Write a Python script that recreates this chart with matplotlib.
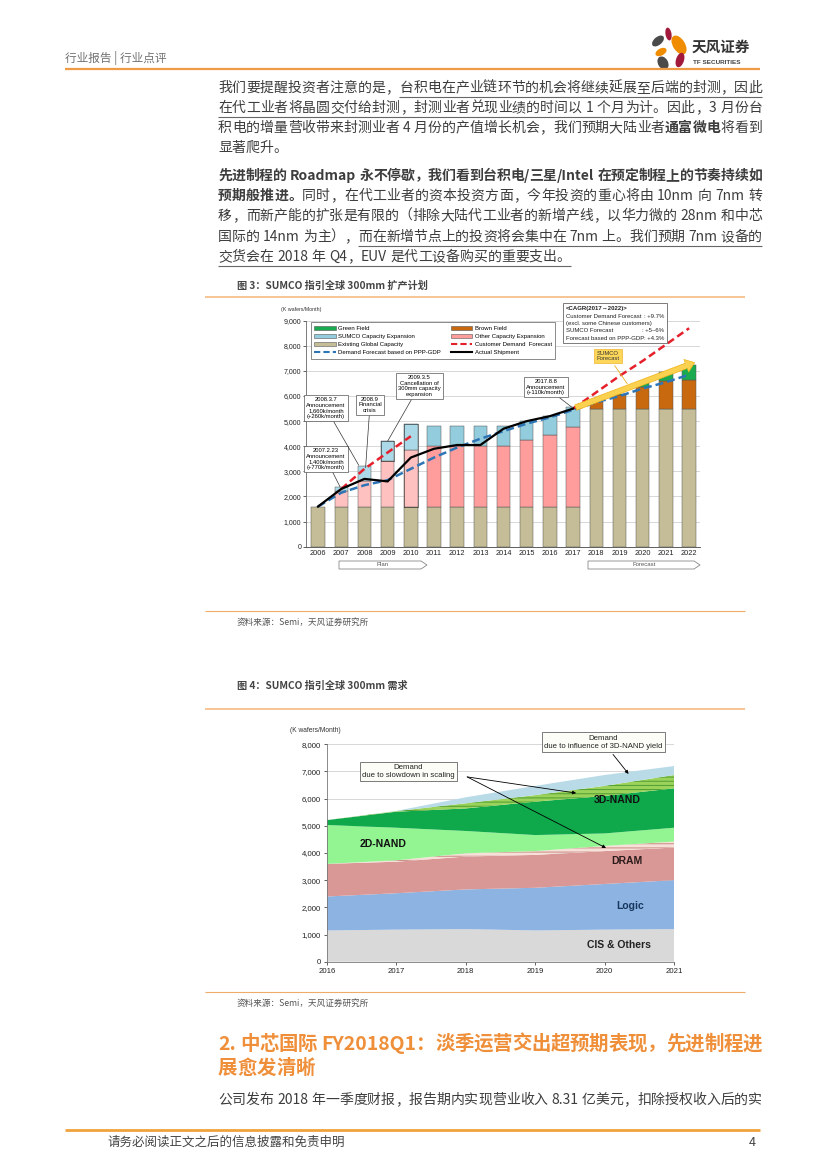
import matplotlib
matplotlib.use('Agg')
import matplotlib.pyplot as plt
import numpy as np
from matplotlib.font_manager import FontProperties
from matplotlib.patches import Rectangle, Polygon, Ellipse, Patch, FancyArrowPatch
from matplotlib.lines import Line2D
from matplotlib.ticker import FuncFormatter

CJK = ['Noto Sans CJK SC', 'DejaVu Sans']
LAT = ['Liberation Sans', 'DejaVu Sans']
plt.rcParams['font.family'] = CJK
plt.rcParams['hatch.linewidth'] = 0.7

nan = np.nan
# ---------------- chart 1 data (K wafers/Month) ----------------
years1 = ['2006', '2007', '2008', '2009', '2010', '2011', '2012', '2013', '2014',
          '2015', '2016', '2017', '2018', '2019', '2020', '2021', '2022']
plan_years = ['2007', '2008', '2009', '2010']
existing_cap = [1600, 1600, 1600, 1600, 1600, 1600, 1600, 1600, 1600, 1600, 1600, 1600,
                5500, 5500, 5500, 5500, 5500]
other_exp = [0, 600, 1000, 1800, 2250, 2400, 2400, 2400, 2400, 2650, 2850, 3150,
             0, 0, 0, 0, 0]
sumco_exp = [0, 180, 600, 800, 1050, 800, 800, 800, 800, 750, 750, 800,
             0, 0, 0, 0, 0]
brown_field = [0, 0, 0, 0, 0, 0, 0, 0, 0, 0, 0, 0, 250, 550, 850, 1100, 1150]
green_field = [0, 0, 0, 0, 0, 0, 0, 0, 0, 0, 0, 0, 0, 30, 150, 350, 600]
actual_ship = [1600, 2300, 2700, 2600, 3550, 3900, 4050, 4050, 4700, 5000, 5200, 5500,
               nan, nan, nan, nan, nan]
cust_demand = [nan, 2300, 3100, 3750, 4400, nan, nan, nan, nan, nan, nan, 5500,
               6150, 6800, 7400, 8050, 8700]
ppp_demand = [1600, 2150, 2450, 2650, 3100, 3550, 3950, 4300, 4600, 4900, 5150, 5450,
              5750, 6000, 6300, 6550, 6850]
legend1 = ['Green Field', 'SUMCO Capacity Expansion', 'Existing Global Capacity',
           'Demand Forecast based on PPP-GDP', 'Brown Field', 'Other Capacity Expansion',
           'Customer Demand  Forecast', 'Actual Shipment']

# ---------------- chart 2 data (K wafers/Month) ----------------
years2 = [2016, 2017, 2018, 2019, 2020, 2021]
cis_others = [1150, 1180, 1200, 1150, 1180, 1200]
logic = [1250, 1340, 1460, 1570, 1680, 1800]
dram = [1200, 1160, 1210, 1210, 1210, 1200]
dram_scaling = [0, 50, 120, 140, 190, 220]
nand_2d = [1430, 1200, 820, 590, 460, 510]
nand_3d = [180, 590, 830, 1230, 1380, 1450]
nand_3d_scaling = [0, 20, 190, 240, 370, 490]
nand_3d_yield = [0, 10, 220, 340, 400, 330]

W, H = 827, 1169
fig = plt.figure(figsize=(W / 100, H / 100), dpi=100)
renderer = fig.canvas.get_renderer()

def frac_rect(x0, y0, x1, y1):
    return [x0 / W, 1 - y1 / H, (x1 - x0) / W, (y1 - y0) / H]

# ================= chart 1 =================
C_EXIST = '#c4bd97'
C_OTHER = '#ff9d9d'
C_OTHER_P = '#ffc0c0'
C_SUMCO = '#93cddd'
C_SUMCO_P = '#abd9e7'
C_BROWN = '#c9690f'
C_GREEN = '#1aab50'

ax1 = fig.add_axes(frac_rect(306, 320.7, 700, 546.7))
x1 = np.arange(len(years1))
bw = 0.58
ec = '#555555'
def edges(vals):
    return ['none' if v == 0 else ec for v in vals]

ax1.bar(x1, existing_cap, bw, color=C_EXIST, edgecolor=ec, lw=0.35, zorder=2)
bottom = np.array(existing_cap, float)
pink_cols = [C_OTHER_P if y in plan_years else C_OTHER for y in years1]
blue_cols = [C_SUMCO_P if y in plan_years else C_SUMCO for y in years1]
ax1.bar(x1, other_exp, bw, bottom=bottom, color=pink_cols, edgecolor=edges(other_exp), lw=0.35, zorder=2)
bottom = bottom + np.array(other_exp)
ax1.bar(x1, sumco_exp, bw, bottom=bottom, color=blue_cols, edgecolor=edges(sumco_exp), lw=0.35, zorder=2)
bottom = bottom + np.array(sumco_exp)
ax1.bar(x1, brown_field, bw, bottom=bottom, color=C_BROWN, edgecolor=edges(brown_field), lw=0.35, zorder=2)
bottom = bottom + np.array(brown_field)
ax1.bar(x1, green_field, bw, bottom=bottom, color=C_GREEN, edgecolor=edges(green_field), lw=0.35, zorder=2)

# dotted outlines for cancelled plan (2009 SUMCO part, 2010 expansion)
i09 = years1.index('2009')
ax1.add_patch(Rectangle((i09 - bw / 2, existing_cap[i09] + other_exp[i09]), bw, sumco_exp[i09],
                        fill=False, ec='k', lw=0.6, ls=(0, (1.2, 1.2)), zorder=3))
i10 = years1.index('2010')
ax1.add_patch(Rectangle((i10 - bw / 2, existing_cap[i10]), bw, other_exp[i10] + sumco_exp[i10],
                        fill=False, ec='k', lw=0.6, ls=(0, (1.2, 1.2)), zorder=3))

ax1.plot(x1, ppp_demand, color='#2e75b6', lw=1.8, ls=(0, (3.2, 1.6)), zorder=4)
ax1.plot(x1, cust_demand, color='#e5202b', lw=1.8, ls=(0, (3.0, 1.6)), zorder=4)
ax1.plot(x1, actual_ship, color='k', lw=1.6, zorder=5)

i17 = years1.index('2017')
arr = FancyArrowPatch((i17, actual_ship[i17]), (16.35, 7370),
                      arrowstyle='simple,head_length=0.8,head_width=1.2,tail_width=0.5',
                      mutation_scale=8, fc='#fbd24f', ec='#f0b21a', lw=0.5, zorder=6, clip_on=False)
ax1.add_patch(arr)

ax1.set_xlim(-0.52, 16.47)
ax1.set_ylim(0, 9000)
ax1.set_yticks(np.arange(0, 9001, 1000))
ax1.yaxis.set_major_formatter(FuncFormatter(lambda v, p: f'{int(v):,}'))
ax1.set_xticks(x1)
ax1.set_xticklabels(years1)
for lab in ax1.get_xticklabels() + ax1.get_yticklabels():
    lab.set_fontfamily(LAT)
ax1.tick_params(axis='y', labelsize=5, length=2, width=0.5, pad=1.5, colors='#222')
ax1.tick_params(axis='x', labelsize=5.3, length=0, pad=2.5, colors='#222')
ax1.grid(axis='y', color='#c8c8c8', lw=0.5)
ax1.set_axisbelow(True)
for s in ['top', 'right']:
    ax1.spines[s].set_visible(False)
ax1.spines['left'].set_color('#666')
ax1.spines['left'].set_linewidth(0.6)
ax1.spines['bottom'].set_color('#444')
ax1.spines['bottom'].set_linewidth(0.6)

handles = [Patch(fc=C_GREEN, ec=ec, lw=0.4), Patch(fc=C_SUMCO, ec=ec, lw=0.4),
           Patch(fc=C_EXIST, ec=ec, lw=0.4), Line2D([], [], color='#2e75b6', lw=1.5, ls=(0, (3, 1.5))),
           Patch(fc=C_BROWN, ec=ec, lw=0.4), Patch(fc=C_OTHER, ec=ec, lw=0.4),
           Line2D([], [], color='#e5202b', lw=1.5, ls=(0, (3, 1.5))), Line2D([], [], color='k', lw=1.5)]
leg = ax1.legend(handles, legend1, loc='upper left', bbox_to_anchor=(0.012, 0.993, 0.62, 0.0),
                 mode='expand', ncol=2, prop=FontProperties(family=LAT, size=4.3),
                 frameon=True, fancybox=False, edgecolor='#777', framealpha=1,
                 handlelength=3.6, handleheight=0.7, borderpad=0.55, labelspacing=0.5,
                 columnspacing=1.0, borderaxespad=0, handletextpad=0.4)
leg.get_frame().set_linewidth(0.6)
leg.set_zorder(7)

box_kw = dict(boxstyle='square,pad=0.35', fc='white', ec='#555', lw=0.5)
arr_kw = dict(arrowstyle='-', color='#333', lw=0.5, shrinkA=0, shrinkB=0)
fp_ann = FontProperties(family=LAT, size=4.2)
def ann(txt, xy, xytext):
    ax1.annotate(txt, xy=xy, xytext=xytext, ha='center', va='center', fontproperties=fp_ann,
                 bbox=box_kw, arrowprops=arr_kw, zorder=8, linespacing=1.15, annotation_clip=False)

ann('2007.2.23\nAnnouncement\n1,400k/month\n(+770k/month)', (0.95, 2380), (0.34, 3500))
ann('2008.3.7\nAnnouncement\n1,660k/month\n(+260k/month)', (1.75, 3250), (0.34, 5520))
ann('2008.9\nFinancial\ncrisis', (2.05, 3150), (2.24, 5650))
ann('2009.3.5\nCancellation of\n300mm capacity\nexpansion', (3.0, 4200), (4.36, 6400))
ann('2017.8.8\nAnnouncement\n(+110k/month)', (10.95, 5550), (9.83, 6350))
ax1.annotate('SUMCO\nForecast', xy=(13.4, 6400), xytext=(12.5, 7600), ha='center', va='center',
             fontproperties=fp_ann, color='#333', linespacing=1.1,
             bbox=dict(boxstyle='square,pad=0.35', fc='#fcd75a', ec='#f2b431', lw=0.5),
             arrowprops=dict(arrowstyle='-', color='#e8b020', lw=0.6), zorder=8)

# ================= chart 2 =================
ax2 = fig.add_axes(frac_rect(327, 744.3, 674, 961.7))
layers = [cis_others, logic, dram, dram_scaling, nand_2d, nand_3d, nand_3d_scaling, nand_3d_yield]
cols2 = ['#d9d9d9', '#8db3e2', '#d99795', '#f6e0d8', '#92f592', '#0fa84b', '#9bd35a', '#b9dbe8']
polys = ax2.stackplot(years2, *layers, colors=cols2, lw=0, zorder=2)
polys[3].set_hatch('----')
polys[3].set_edgecolor('#c98a82')
polys[6].set_hatch('----')
polys[6].set_edgecolor('#4f9d32')
ax2.set_xlim(2016, 2021)
ax2.set_ylim(0, 8000)
ax2.set_yticks(np.arange(0, 8001, 1000))
ax2.yaxis.set_major_formatter(FuncFormatter(lambda v, p: f'{int(v):,}'))
ax2.set_xticks(years2)
for lab in ax2.get_xticklabels() + ax2.get_yticklabels():
    lab.set_fontfamily(LAT)
ax2.tick_params(axis='both', labelsize=5.6, length=2.5, width=0.5, pad=2, colors='#222')
ax2.grid(axis='y', color='#c8c8c8', lw=0.5)
ax2.set_axisbelow(True)
for s in ['top', 'right']:
    ax2.spines[s].set_visible(False)
for s in ['left', 'bottom']:
    ax2.spines[s].set_color('#777')
    ax2.spines[s].set_linewidth(0.6)

fp_lab = FontProperties(family=LAT, size=7.5, weight='bold')
ax2.text(2020.18, 5950, '3D-NAND', fontproperties=fp_lab, color='#111', ha='center', va='center', zorder=5)
ax2.text(2016.81, 4330, '2D-NAND', fontproperties=fp_lab, color='#111', ha='center', va='center', zorder=5)
ax2.text(2020.32, 3710, 'DRAM', fontproperties=fp_lab, color='#2a1a1a', ha='center', va='center', zorder=5)
ax2.text(2020.37, 2050, 'Logic', fontproperties=fp_lab, color='#17365d', ha='center', va='center', zorder=5)
ax2.text(2020.21, 615, 'CIS & Others', fontproperties=fp_lab, color='#222', ha='center', va='center', zorder=5)

fp_ann2 = FontProperties(family=LAT, size=5.6)
box2 = dict(boxstyle='square,pad=0.3', fc='#fdfdf8', ec='#666', lw=0.6)
ax2.annotate('Demand\ndue to influence of 3D-NAND yield', xy=(2020.37, 6830), xytext=(2019.98, 8080),
             ha='center', va='center', fontproperties=fp_ann2, color='#222', bbox=box2,
             arrowprops=dict(arrowstyle='-|>', color='k', lw=0.6, mutation_scale=5), zorder=8,
             annotation_clip=False)
ax2.text(2017.17, 7000, 'Demand\ndue to slowdown in scaling', ha='center', va='center',
         fontproperties=fp_ann2, color='#222', bbox=box2, zorder=8)
for tgt in [(2019.59, 6205), (2020.02, 4185)]:
    ax2.annotate('', xy=tgt, xytext=(2018.02, 6800),
                 arrowprops=dict(arrowstyle='-|>', color='k', lw=0.6, mutation_scale=5,
                                 shrinkA=0, shrinkB=0), zorder=8)

# ================= page overlay (pixel coordinates) =================
ov = fig.add_axes([0, 0, 1, 1])
ov.set_xlim(0, W)
ov.set_ylim(H, 0)
ov.axis('off')
ov.patch.set_alpha(0)

def hl(x0, x1, y, color, lw):
    ov.plot([x0, x1], [y, y], color=color, lw=lw, solid_capstyle='butt')

def tokenize(s):
    toks, buf = [], ''
    for ch in s:
        if ord(ch) < 128 and ch != ' ':
            buf += ch
        else:
            if buf:
                toks.append(buf)
                buf = ''
            toks.append(ch)
    if buf:
        toks.append(buf)
    return toks

def text_line(x0, x1, y, segs, size, color, justify=True, ul_color='#666', ul_dy=8.5, bold_all=False):
    items = []
    for s, bold, ul in segs:
        fp = FontProperties(family=CJK, size=size, weight='bold' if (bold or bold_all) else 'light')
        for t in tokenize(s):
            if t == ' ':
                w = size * 100 / 72 * 0.25
            else:
                w = renderer.get_text_width_height_descent(t, fp, ismath=False)[0]
            items.append((t, fp, ul, w, bold))
    total = sum(it[3] for it in items)
    gap = (x1 - x0 - total) / (len(items) - 1) if (justify and len(items) > 1) else 0.0
    x = x0
    run = None
    for t, fp, ul, w, bold in items:
        if t != ' ':
            ov.text(x, y, t, fontproperties=fp, color=(color if bold else color), ha='left', va='center')
        if ul:
            if run is None:
                run = [x, x + w]
            else:
                run[1] = x + w
        elif run is not None:
            hl(run[0], run[1], y + ul_dy, ul_color, 0.8)
            run = None
        x += w + gap
    if run is not None:
        hl(run[0], run[1], y + ul_dy, ul_color, 0.8)

BODY = '#3d3d3d'
L, R = 218, 762
# header
ov.text(65, 58, '行业报告 | 行业点评', fontsize=8.4, color='#707070', ha='left', va='center')
hl(65, 760, 69, '#ef9a45', 1.6)
for (cx, cy, w, h, ang, c) in [(668.5, 34, 6, 13, -10, '#a3193b'), (679, 45, 12, 21, -32, '#f08c00'),
                               (658, 41, 8, 14, 50, '#4a4a4a'), (661, 52, 7, 12, 62, '#f08c00'),
                               (680, 60, 8, 15, 18, '#a3193b'), (663, 63, 10, 14, -30, '#4a4a4a')]:
    ov.add_patch(Ellipse((cx, cy), w, h, angle=ang, color=c, lw=0))
ov.text(692, 47, '天风证券', fontsize=10.5, weight='bold', color='#333', ha='left', va='center')
ov.text(693, 63, 'TF SECURITIES', fontsize=4.6, weight='bold', color='#444', ha='left', va='center',
        family=LAT)

# paragraph 1
text_line(L, R, 88, [('我们要提醒投资者注意的是，', False, False),
                     ('台积电在产业链环节的机会将继续延展至后端的封测，因此', False, True)], 10, BODY)
text_line(L, R, 108, [('在代工业者将晶圆交付给封测，封测业者兑现业绩的时间以 1 个月为计', False, True),
                      ('。因此，3 月份台', False, False)], 10, BODY)
text_line(L, R, 128, [('积电的增量营收带来封测业者 4 月份的产值增长机会，我们预期大陆业者', False, False),
                      ('通富微电', True, False), ('将看到', False, False)], 10, BODY)
text_line(L, R, 148, [('显著爬升。', False, False)], 10, BODY, justify=False)

# paragraph 2
text_line(L, R, 176, [('先进制程的 Roadmap 永不停歇，我们看到台积电/三星/Intel 在预定制程上的节奏持续如', True, False)], 10, BODY)
text_line(L, R, 196, [('预期般推进。', True, False),
                      ('同时，在代工业者的资本投资方面，今年投资的重心将由 10nm 向 7nm 转', False, False)], 10, BODY)
text_line(L, R, 216, [('移，而新产能的扩张是有限的（排除大陆代工业者的新增产线，以华力微的 28nm 和中芯', False, False)], 10, BODY)
text_line(L, R, 237, [('国际的 14nm 为主），', False, False),
                      ('而在新增节点上的投资将会集中在 7nm 上。我们预期 7nm 设备的', False, True)], 10, BODY)
text_line(L, R, 257, [('交货会在 2018 年 Q4，EUV 是代工设备购买的重要支出。', False, True)], 10, BODY, justify=False)

# figure 3 caption / source
ov.text(237, 286, '图 3：SUMCO 指引全球 300mm 扩产计划', fontsize=7.3, weight='bold', color='#444',
        ha='left', va='center')
hl(205, 745, 297, '#f6c08f', 1.3)
hl(205, 745, 611, '#f0aa6a', 0.8)
ov.text(237, 622, '资料来源：Semi，天风证券研究所', fontsize=6.2, color='#555', ha='left', va='center')

# chart 1 extras
ov.text(281, 310, '(K wafers/Month)', fontsize=3.8, color='#333', ha='left', va='center', family=LAT)
ov.add_patch(Rectangle((563, 303), 104, 40, fc='white', ec='#666', lw=0.6, zorder=5))
fp_c = FontProperties(family=LAT, size=4.3)
fp_cb = FontProperties(family=LAT, size=4.3, weight='bold')
ov.text(566, 308.5, '<CAGR(2017→2022)>', fontproperties=fp_cb, color='#222', ha='left', va='center', zorder=6)
ov.text(566, 316.5, 'Customer Demand Forecast', fontproperties=fp_c, color='#222', ha='left', va='center', zorder=6)
ov.text(664, 316.5, ': +9.7%', fontproperties=fp_c, color='#222', ha='right', va='center', zorder=6)
ov.text(566, 323.5, '(excl. some Chinese customers)', fontproperties=fp_c, color='#222', ha='left', va='center', zorder=6)
ov.text(566, 331, 'SUMCO Forecast', fontproperties=fp_c, color='#222', ha='left', va='center', zorder=6)
ov.text(664, 331, ': +5~6%', fontproperties=fp_c, color='#222', ha='right', va='center', zorder=6)
ov.text(566, 338.5, 'Forecast based on PPP-GDP', fontproperties=fp_c, color='#222', ha='left', va='center', zorder=6)
ov.text(664, 338.5, ': +4.3%', fontproperties=fp_c, color='#222', ha='right', va='center', zorder=6)
for (xa, xb, lab) in [(339, 427, 'Plan'), (588, 700, 'Forecast')]:
    ov.add_patch(Polygon([(xa, 561), (xb - 6, 561), (xb, 565), (xb - 6, 569), (xa, 569)],
                         closed=True, fc='white', ec='#888', lw=0.6))
    ov.text((xa + xb) / 2, 565, lab, fontsize=4.3, color='#555', ha='center', va='center', family=LAT)

# figure 4 caption / source
ov.text(237, 686, '图 4：SUMCO 指引全球 300mm 需求', fontsize=7.3, weight='bold', color='#444',
        ha='left', va='center')
hl(205, 745, 709, '#f6c08f', 1.3)
ov.text(290, 731, '(K wafers/Month)', fontsize=4.8, color='#333', ha='left', va='center', family=LAT)
hl(205, 745, 992, '#f0aa6a', 0.8)
ov.text(237, 1003, '资料来源：Semi，天风证券研究所', fontsize=6.2, color='#555', ha='left', va='center')

# section heading
ORG = '#ef8f3a'
text_line(L, R, 1044, [('2. 中芯国际 FY2018Q1：淡季运营交出超预期表现，先进制程进', True, False)], 14, ORG)
text_line(L, R, 1068, [('展愈发清晰', True, False)], 14, ORG, justify=False)
text_line(L, R, 1100, [('公司发布 2018 年一季度财报，报告期内实现营业收入 8.31 亿美元，扣除授权收入后的实', False, False)], 10, BODY)

# footer
hl(65, 760, 1130, '#f0a23c', 2.0)
ov.text(107, 1142, '请务必阅读正文之后的信息披露和免责申明', fontsize=9, color='#444', ha='left', va='center')
ov.text(756, 1142, '4', fontsize=9, color='#444', ha='right', va='center')

fig.savefig('out.png', dpi=100)
